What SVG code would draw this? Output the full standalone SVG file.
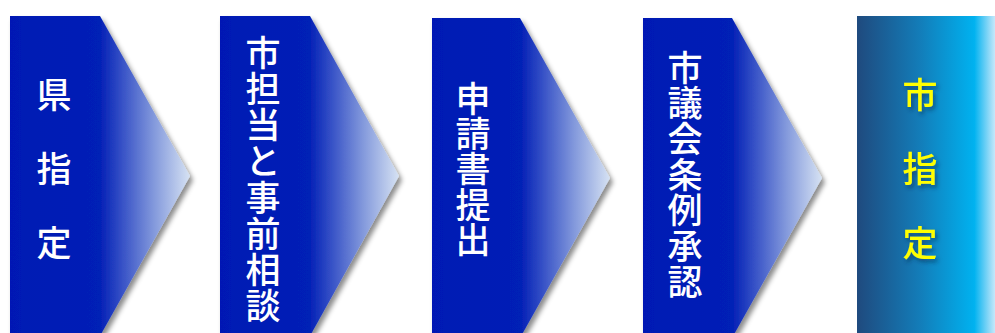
<svg xmlns="http://www.w3.org/2000/svg" width="995" height="333" viewBox="0 0 995 333">
<defs>
<linearGradient id="ag" x1="0" y1="0" x2="1" y2="0">
<stop offset="0" stop-color="#0019B4"/>
<stop offset="0.5" stop-color="#0320B6"/>
<stop offset="0.62" stop-color="#3550C6"/>
<stop offset="0.8" stop-color="#8399DC"/>
<stop offset="1" stop-color="#D6E2F3"/>
</linearGradient>
<linearGradient id="fg" x1="0" y1="0" x2="1" y2="0">
<stop offset="0" stop-color="#1F4A7E"/>
<stop offset="0.45" stop-color="#137CB8"/>
<stop offset="0.85" stop-color="#00B2F0"/>
<stop offset="1" stop-color="#C6E8FA"/>
</linearGradient>
<filter id="sh" x="-10%" y="-10%" width="130%" height="130%">
<feDropShadow dx="3" dy="4" stdDeviation="2.5" flood-color="#000" flood-opacity="0.45"/>
</filter>
<filter id="tsh" x="-30%" y="-30%" width="160%" height="160%">
<feDropShadow dx="2" dy="3" stdDeviation="2" flood-color="#0A2A50" flood-opacity="0.6"/>
</filter>
</defs>
<style>
.arr{fill:url(#ag);filter:url(#sh)}
.t{font-family:"Noto Sans CJK JP","Noto Sans CJK SC",sans-serif;font-size:35px;font-weight:500;fill:#fff;text-anchor:middle;dominant-baseline:central}
.y{fill:#FFFF00;filter:url(#tsh)}
</style>
<g id="connectors"/>
<g id="n1">
<path class="arr" d="M10,16 H100 L190,176 L100,336 H10 Z"/>
<text class="t" x="54" y="92.5">県</text>
<text class="t" x="54" y="166">指</text>
<text class="t" x="54" y="240">定</text>
</g>
<g id="n2">
<path class="arr" d="M220,16 H310 L399,176 L310,336 H220 Z"/>
<text class="t" x="263" y="50">市</text>
<text class="t" x="263" y="86.3">担</text>
<text class="t" x="263" y="122.5">当</text>
<text class="t" x="263" y="158.8">と</text>
<text class="t" x="263" y="195">事</text>
<text class="t" x="263" y="231.3">前</text>
<text class="t" x="263" y="267.5">相</text>
<text class="t" x="263" y="303.8">談</text>
</g>
<g id="n3">
<path class="arr" d="M432,18 H520 L610,178 L520,338 H432 Z"/>
<text class="t" x="473" y="96">申</text>
<text class="t" x="473" y="131.4">請</text>
<text class="t" x="473" y="166.8">書</text>
<text class="t" x="473" y="202.2">提</text>
<text class="t" x="473" y="237.6">出</text>
</g>
<g id="n4">
<path class="arr" d="M643,18 H732 L822,178 L732,338 H643 Z"/>
<text class="t" x="685" y="65">市</text>
<text class="t" x="685" y="100.7">議</text>
<text class="t" x="685" y="136.4">会</text>
<text class="t" x="685" y="172.1">条</text>
<text class="t" x="685" y="207.8">例</text>
<text class="t" x="685" y="243.5">承</text>
<text class="t" x="685" y="279.2">認</text>
</g>
<g id="n5">
<rect x="857" y="16" width="138" height="317" fill="url(#fg)"/>
<text class="t y" x="920" y="92.5">市</text>
<text class="t y" x="920" y="166">指</text>
<text class="t y" x="920" y="240">定</text>
</g>
</svg>
